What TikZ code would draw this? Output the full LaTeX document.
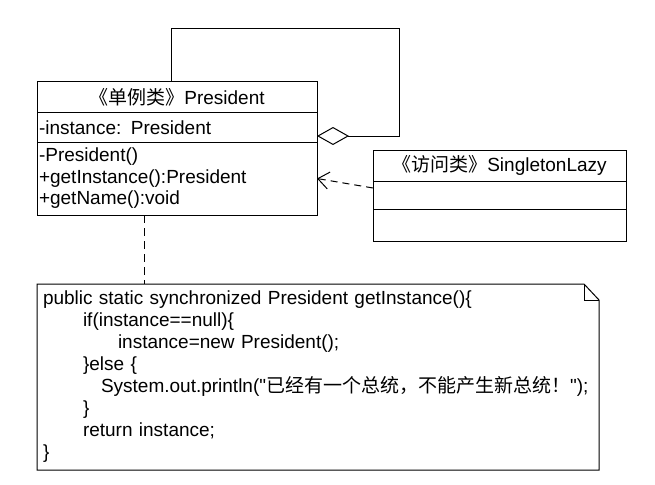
\documentclass[tikz,border=0pt]{standalone}
\usepackage{fontspec}
\setmainfont[Ligatures=TeXOff]{Liberation Sans}
\newfontfamily\cjk{Noto Sans CJK SC}
\usetikzlibrary{positioning, arrows.meta, calc}

\begin{document}
\begin{tikzpicture}[
    x=1pt, y=-1pt,
    font=\fontsize{19}{21.5}\selectfont,
    part/.style={draw=black, line width=1pt, anchor=north west, outer sep=0pt, inner xsep=2pt, inner ysep=0pt},
    prespart/.style={part, minimum width=280pt, text width=276pt},
    lazypart/.style={part, minimum width=253pt, text width=249pt},
    notebox/.style={anchor=north west, outer sep=0pt, inner xsep=6pt, inner ysep=0pt, minimum width=562pt, minimum height=186pt, text width=550pt, align=left, font=\fontsize{19}{22}\selectfont},
    aggr/.style={draw, line width=1pt, -{Diamond[open, length=32pt, width=18pt, line width=1pt]}},
    depend/.style={draw, line width=1pt, dash pattern=on 7pt off 5pt, -{Straight Barb[length=11pt, width=17pt, line width=1pt]}},
    notelink/.style={draw, line width=1pt, dash pattern=on 8pt off 5pt}
]
\useasboundingbox (0,0) rectangle (655,484);

% President class
\node[prespart, align=center, minimum height=31pt] (presname) at (37,82) {{\cjk 《单例类》}President};
\node[prespart, align=left, minimum height=29pt] (presattr) at (presname.south west) {-instance: President};
\node[prespart, align=left, minimum height=73pt] (presops) at (presattr.south west) {-President()\\+getInstance():President\\+getName():void};

% SingletonLazy class
\node[lazypart, align=center, minimum height=31pt] (lazyname) at (373,150) {{\cjk 《访问类》}SingletonLazy};
\node[lazypart, minimum height=28pt] (lazyattr) at (lazyname.south west) {};
\node[lazypart, minimum height=32pt] (lazyops) at (lazyattr.south west) {};

% Note
\node[notebox] (note) at (37,284) {public static synchronized President getInstance()\{\\
\hspace*{40pt}if(instance==null)\{\\
\hspace*{75pt}instance=new President();\\
\hspace*{40pt}\}else \{\\
\hspace*{58pt}System.out.println("{\cjk 已经有一个总统，不能产生新总统！}");\\
\hspace*{40pt}\}\\
\hspace*{40pt}return instance;\\
\}};
\draw[line width=1pt] (note.north west) -- ([xshift=-15pt]note.north east) -- ([yshift=-16pt]note.north east) -- (note.south east) -- (note.south west) -- cycle;
\draw[line width=1pt] ([xshift=-15pt]note.north east) -- ++(0,16) -- ([yshift=-16pt]note.north east);

% Connectors
\coordinate (loopcorner) at (399,29);
\draw[aggr] ([xshift=-6pt]presname.north) |- (loopcorner) |- ([yshift=-8.5pt]presattr.east);
\draw[depend] ([yshift=7pt]lazyattr.west) -- (presops.east);
\draw[notelink] ([xshift=-33pt]presops.south) -- ([xshift=-33pt]presops.south |- note.north);

\end{tikzpicture}
\end{document}
